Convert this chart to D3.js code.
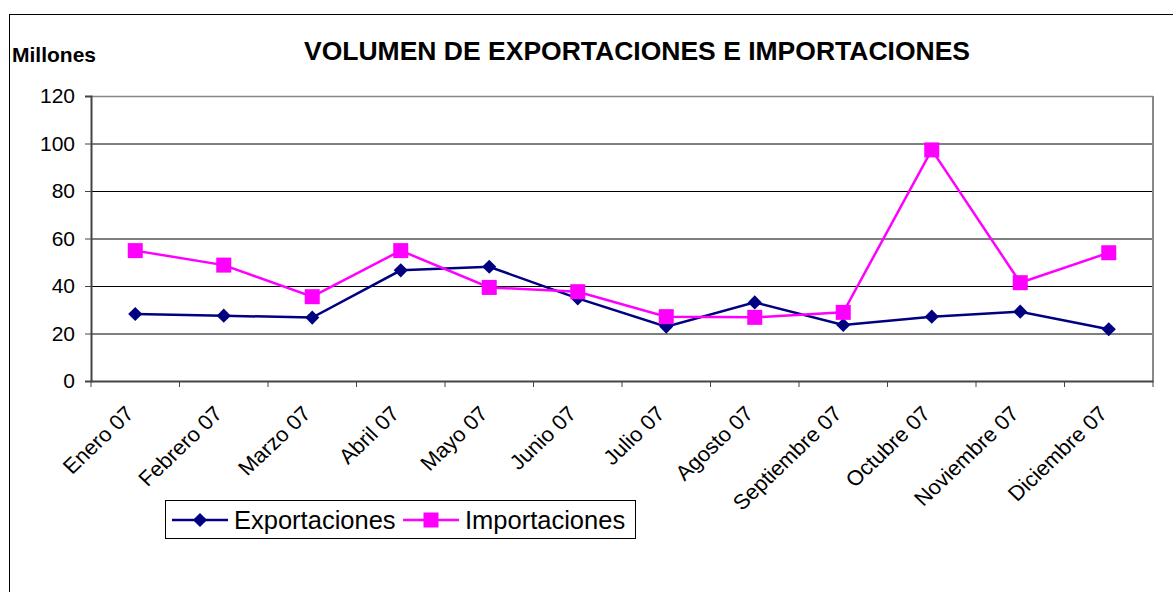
<!DOCTYPE html>
<html><head><meta charset="utf-8">
<script src="https://cdn.jsdelivr.net/npm/d3@7/dist/d3.min.js"></script>
<style>body{margin:0;background:#fff}svg{display:block;font-family:"Liberation Sans",Arial,sans-serif}</style>
</head><body>
<svg id="c" width="1173" height="592"></svg>
<script>
const categories = ["Enero 07","Febrero 07","Marzo 07","Abril 07","Mayo 07","Junio 07","Julio 07","Agosto 07","Septiembre 07","Octubre 07","Noviembre 07","Diciembre 07"];
const exportaciones = [28.2, 27.5, 26.7, 46.6, 48.1, 34.8, 22.9, 33.1, 23.6, 27.1, 29.2, 21.8];
const importaciones = [54.9, 48.8, 35.5, 54.9, 39.4, 37.6, 27.1, 26.8, 28.9, 97.3, 41.4, 54.0];
const yTicks = [0, 20, 40, 60, 80, 100, 120];
const seriesNames = ["Exportaciones", "Importaciones"];

const svg = d3.select("#c");
const L = 91, R = 1153, T = 96, B = 381;

svg.append("rect").attr("x", 9.5).attr("y", 14.5).attr("width", 1200).attr("height", 700)
  .attr("fill", "none").attr("stroke", "#000").attr("stroke-width", 1);

const x = d3.scaleBand().domain(categories).range([L, R]).padding(0);
const y = d3.scaleLinear().domain([0, 120]).range([B, T]);

svg.append("g").selectAll("line").data(yTicks.filter(d => d > 0 && d < 120)).join("line")
  .attr("x1", L).attr("x2", R).attr("y1", d => y(d) + 0.5).attr("y2", d => y(d) + 0.5)
  .attr("stroke", "#000").attr("stroke-width", 1);

svg.append("line").attr("x1", L).attr("x2", R).attr("y1", T + 0.5).attr("y2", T + 0.5).attr("stroke", "#888").attr("stroke-width", 1.5);
svg.append("line").attr("x1", R).attr("x2", R).attr("y1", T).attr("y2", B).attr("stroke", "#888").attr("stroke-width", 2);

const yAxis = d3.axisLeft(y).tickValues(yTicks).tickSize(6).tickPadding(10);
const gy = svg.append("g").attr("transform", `translate(${L},0)`).call(yAxis);
gy.select(".domain").attr("stroke", "#444").attr("stroke-width", 2);
gy.selectAll(".tick line").attr("stroke", "#444");
gy.selectAll("text").attr("font-size", 21).attr("fill", "#000").attr("font-family", "Liberation Sans, Arial, sans-serif");

const xAxis = d3.axisBottom(x).tickSize(0).tickFormat("");
const gx = svg.append("g").attr("transform", `translate(0,${B})`).call(xAxis);
gx.select(".domain").attr("stroke", "#444").attr("stroke-width", 2);
gx.selectAll(".tick").remove();
const bounds = categories.map(c => x(c)).concat([R]);
gx.selectAll("line.b").data(bounds).join("line").attr("class", "b")
  .attr("x1", d => d).attr("x2", d => d).attr("y1", 0).attr("y2", 6).attr("stroke", "#444");
svg.append("g").selectAll("text").data(categories).join("text")
  .attr("transform", d => `translate(${x(d) + x.bandwidth() / 2},${B + 34}) scale(1.05,1) rotate(-45)`)
  .attr("text-anchor", "end").attr("font-size", 21).text(d => d);

const cx = d => x(d) + x.bandwidth() / 2;
const line = d3.line().x((v, i) => cx(categories[i])).y(v => y(v));
svg.append("path").datum(exportaciones).attr("d", line).attr("fill", "none").attr("stroke", "#000080").attr("stroke-width", 2.5);
svg.append("path").datum(importaciones).attr("d", line).attr("fill", "none").attr("stroke", "#FF00FF").attr("stroke-width", 2.5);

svg.append("g").selectAll("path").data(exportaciones).join("path")
  .attr("transform", (v, i) => `translate(${cx(categories[i])},${y(v)}) rotate(45)`)
  .attr("d", d3.symbol().type(d3.symbolSquare).size(100)).attr("fill", "#000080");
svg.append("g").selectAll("rect").data(importaciones).join("rect")
  .attr("x", (v, i) => cx(categories[i]) - 7.5).attr("y", v => y(v) - 7.5)
  .attr("width", 15).attr("height", 15).attr("fill", "#FF00FF");

svg.append("text").attr("x", 637).attr("y", 60).attr("text-anchor", "middle")
  .attr("font-size", 26.5).attr("font-weight", "bold").text("VOLUMEN DE EXPORTACIONES E IMPORTACIONES");
svg.append("text").attr("x", 12).attr("y", 62).attr("font-size", 21).attr("font-weight", "bold").text("Millones");

const lg = svg.append("g");
lg.append("rect").attr("x", 165.5).attr("y", 500.5).attr("width", 470).attr("height", 38)
  .attr("fill", "#fff").attr("stroke", "#000").attr("stroke-width", 1);
const colors = ["#000080", "#FF00FF"];
const lx = [172, 403], tx = [234, 465];
seriesNames.forEach((n, i) => {
  lg.append("line").attr("x1", lx[i]).attr("x2", lx[i] + 56).attr("y1", 520).attr("y2", 520).attr("stroke", colors[i]).attr("stroke-width", 2.5);
  if (i === 0) {
    lg.append("path").attr("transform", `translate(${lx[i] + 28},520) rotate(45)`).attr("d", d3.symbol().type(d3.symbolSquare).size(100)).attr("fill", colors[i]);
  } else {
    lg.append("rect").attr("x", lx[i] + 28 - 7.5).attr("y", 512.5).attr("width", 15).attr("height", 15).attr("fill", colors[i]);
  }
  lg.append("text").attr("x", tx[i]).attr("y", 529).attr("font-size", 25.5).text(n);
});
</script>
</body></html>
